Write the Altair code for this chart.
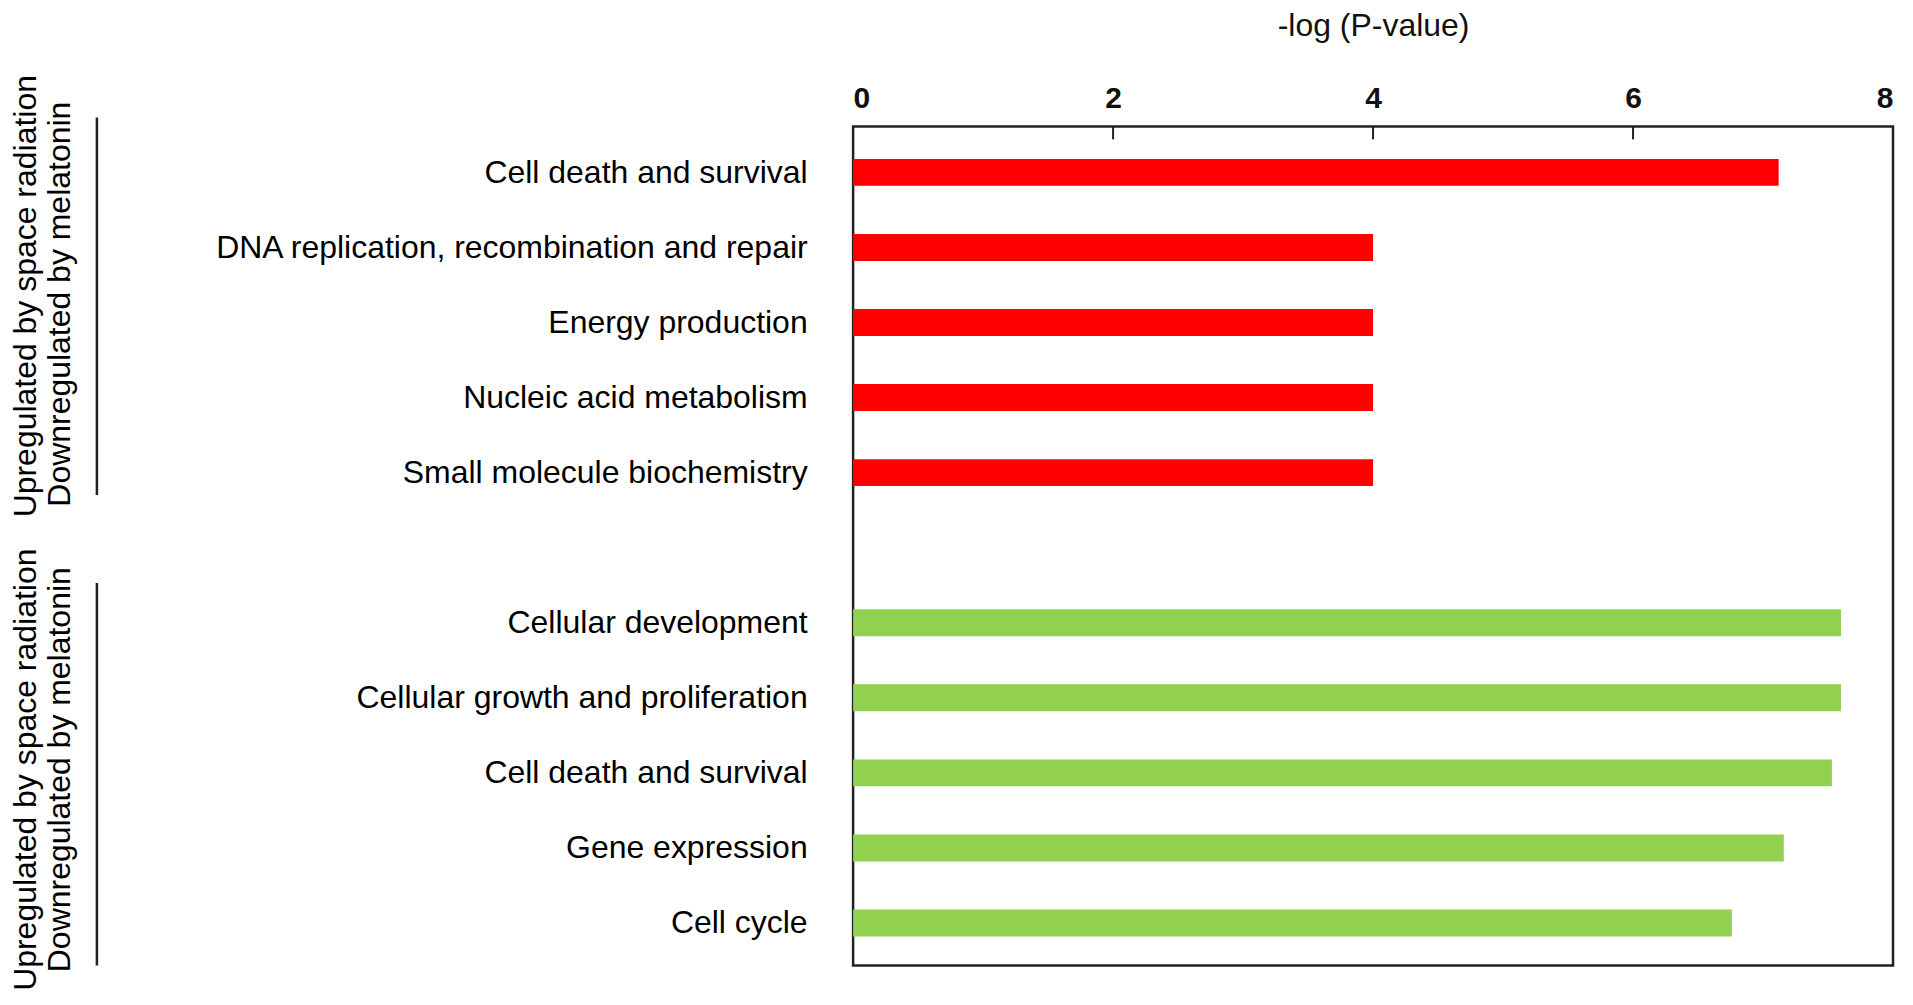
import pandas as pd
import altair as alt

# Functions, in the order they appear top to bottom
categories = [
    "Cell death and survival",
    "DNA replication, recombination and repair",
    "Energy production",
    "Nucleic acid metabolism",
    "Small molecule biochemistry",
    "Cellular development",
    "Cellular growth and proliferation",
    "Cell death and survival",
    "Gene expression",
    "Cell cycle",
]
neg_log_p = [7.12, 4.0, 4.0, 4.0, 4.0, 7.6, 7.6, 7.53, 7.16, 6.76]
group = ["up", "up", "up", "up", "up", "down", "down", "down", "down", "down"]
# row slot of each bar (slot 5 is the empty gap between the two groups)
row = [0, 1, 2, 3, 4, 6, 7, 8, 9, 10]

group_line1 = "Upregulated by space radiation"
group_line2 = "Downregulated by melatonin"
x_ticks = [0, 2, 4, 6, 8]
inner_ticks = [2, 4, 6]

df = pd.DataFrame({"category": categories, "value": neg_log_p, "group": group, "row": row})

label_lookup = [""] * 11
for r, c in zip(row, categories):
    label_lookup[r] = c
label_expr = "[" + ",".join("'" + s + "'" for s in label_lookup) + "][datum.value]"

FONT = "Liberation Sans"
W, H = 1041, 840

bars = alt.Chart(df).mark_bar(orient="horizontal", size=27).encode(
    x=alt.X("value:Q", scale=alt.Scale(domain=[0, 8], nice=False),
            axis=alt.Axis(orient="top", values=x_ticks, format="d", ticks=False, domain=False,
                          grid=False, labelFontSize=30, labelFontWeight="bold", labelFont=FONT,
                          labelColor="#111", labelPadding=13, title="-log (P-value)",
                          titleFont=FONT, titleFontSize=32, titleFontWeight="normal",
                          titleColor="#111", titlePadding=41)),
    y=alt.Y("row:Q", scale=alt.Scale(domain=[-0.546, 10.5], reverse=True, nice=False, zero=False),
            axis=alt.Axis(values=row, labelExpr=label_expr, ticks=False, domain=False, grid=False,
                          labelFont=FONT, labelFontSize=32, labelColor="#000", labelPadding=46,
                          labelBaseline="middle", labelLimit=0, title=None)),
    color=alt.Color("group:N", scale=alt.Scale(domain=["up", "down"], range=["#FF0000", "#92D050"]),
                    legend=None),
)

ticks = alt.Chart(pd.DataFrame({"t": inner_ticks})).mark_rule(color="#222", strokeWidth=2).encode(
    x="t:Q", y=alt.value(0), y2=alt.value(13)
)

layers = [bars, ticks]
# group annotations on the far left: two rotated lines plus a vertical rule
for y_center1, y_center2, rule_top, rule_bottom in [(170, 178, -9, 369), (644, 644, 457, 840)]:
    for txt, xb, yc in [(group_line1, -818, y_center1), (group_line2, -784, y_center2)]:
        layers.append(
            alt.Chart(pd.DataFrame({"t": [txt]})).mark_text(
                angle=270, align="center", baseline="alphabetic", font=FONT, fontSize=32, color="#000"
            ).encode(text="t:N", x=alt.value(xb), y=alt.value(yc))
        )
    layers.append(
        alt.Chart(pd.DataFrame({"t": [0]})).mark_rule(color="#222", strokeWidth=2.5).encode(
            x=alt.value(-757), y=alt.value(rule_top), y2=alt.value(rule_bottom)
        )
    )

chart = alt.layer(*layers).properties(
    width=W, height=H,
    background="white",
    autosize=alt.AutoSizeParams(type="none"),
    padding={"left": 846, "top": 118, "right": 12, "bottom": 30},
).configure_view(stroke="#222", strokeWidth=2.5)

chart.save("out.html", embed_options={"renderer": "svg", "actions": False})
